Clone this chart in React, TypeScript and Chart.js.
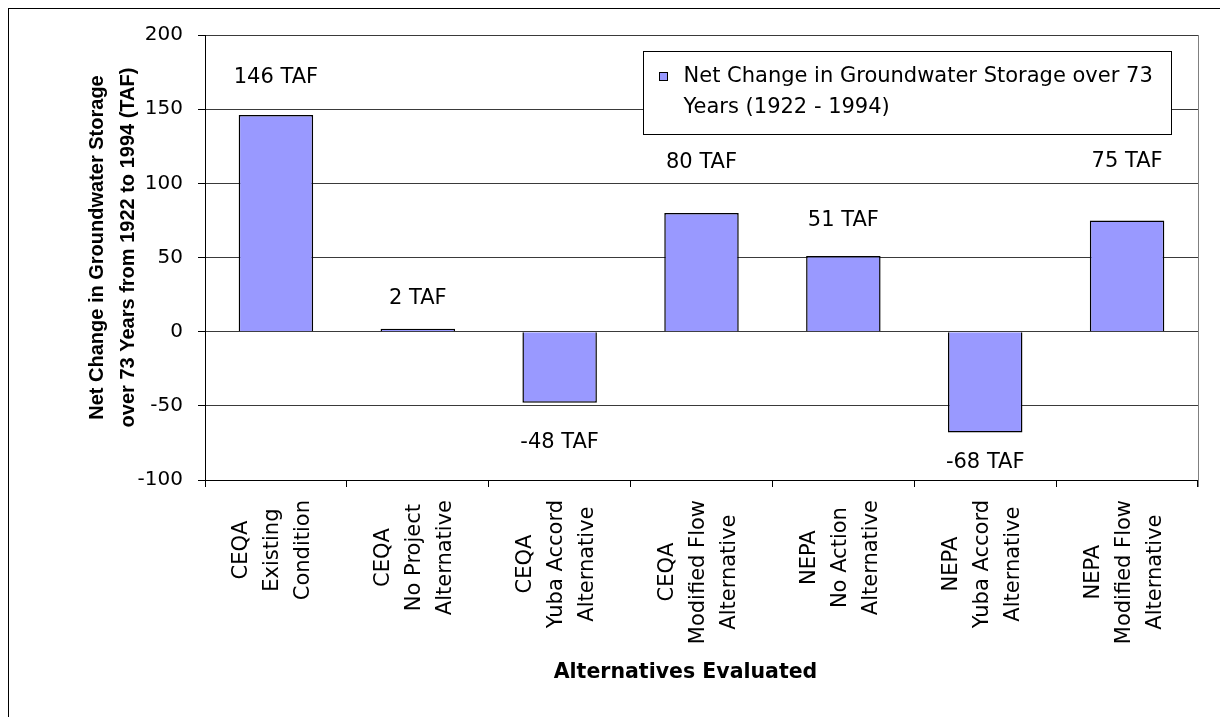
import React, { useEffect, useRef } from 'react';
import { Chart, registerables } from 'chart.js';

Chart.register(...registerables);

// ---- data ----
const categories: string[][] = [
  ['CEQA', 'Existing', 'Condition'],
  ['CEQA', 'No Project', 'Alternative'],
  ['CEQA', 'Yuba Accord', 'Alternative'],
  ['CEQA', 'Modified Flow', 'Alternative'],
  ['NEPA', 'No Action', 'Alternative'],
  ['NEPA', 'Yuba Accord', 'Alternative'],
  ['NEPA', 'Modified Flow', 'Alternative'],
];
const netChange = [146, 2, -48, 80, 51, -68, 75];
const valueLabels = ['146 TAF', '2 TAF', '-48 TAF', '80 TAF', '51 TAF', '-68 TAF', '75 TAF'];
const yTicks = [-100, -50, 0, 50, 100, 150, 200];
const seriesLabel = 'Net Change in Groundwater Storage over 73 Years (1922 - 1994)';
const legendLines = ['Net Change in Groundwater Storage over 73', 'Years (1922 - 1994)'];
const yTitle = ['Net Change in Groundwater Storage', 'over 73 Years from 1922 to 1994 (TAF)'];
const xTitle = 'Alternatives Evaluated';

// where each value label sits (in axis units)
const labelAnchors = [171, 22, -75, 114, 75, -88, 115];

const REG = '"DejaVu Sans", sans-serif';
const BOLD_Y = '"Liberation Sans", Arial, sans-serif';
const BOLD_X = '"DejaVu Sans", sans-serif';

export default function App() {
  const ref = useRef<HTMLCanvasElement>(null);

  useEffect(() => {
    document.documentElement.style.overflow = 'hidden';
    document.body.style.overflow = 'hidden';
    const canvas = ref.current!;

    const framePlugin = {
      id: 'frame',
      beforeDraw(chart: any) {
        const { ctx, width, height } = chart;
        ctx.save();
        ctx.fillStyle = '#ffffff';
        ctx.fillRect(0, 0, width, height);
        ctx.restore();
      },
      afterDraw(chart: any) {
        const { ctx, width, height, chartArea } = chart;
        ctx.save();
        ctx.strokeStyle = '#000000';
        ctx.lineWidth = 1;
        ctx.strokeRect(0.5, 0.5, width + 20, height + 20);
        // right border of plot area
        ctx.strokeStyle = '#808080';
        ctx.beginPath();
        const rx = Math.round(chartArea.right) + 0.5;
        ctx.moveTo(rx, chartArea.top);
        ctx.lineTo(rx, chartArea.bottom + 7);
        ctx.stroke();
        ctx.restore();
      },
    };

    const titlesPlugin = {
      id: 'axisTitles',
      afterDraw(chart: any) {
        const { ctx, chartArea } = chart;
        ctx.save();
        ctx.fillStyle = '#000000';
        ctx.textAlign = 'center';
        ctx.textBaseline = 'middle';
        // y title (two rotated lines)
        ctx.font = `bold 20px ${BOLD_Y}`;
        const yMid = (chartArea.top + chartArea.bottom) / 2 - 10;
        yTitle.forEach((t, j) => {
          ctx.save();
          ctx.translate(89 + j * 31, yMid);
          ctx.rotate(-Math.PI / 2);
          ctx.fillText(t, 0, 0);
          ctx.restore();
        });
        // x title
        ctx.font = `bold 20.5px ${BOLD_X}`;
        const xMid = (chartArea.left + chartArea.right) / 2 - 16;
        ctx.fillText(xTitle, xMid, chartArea.bottom + 193);
        ctx.restore();
      },
    };

    const valueLabelPlugin = {
      id: 'valueLabels',
      afterDatasetsDraw(chart: any) {
        const { ctx } = chart;
        const meta = chart.getDatasetMeta(0);
        const yScale = chart.scales.y;
        ctx.save();
        ctx.fillStyle = '#000000';
        ctx.font = `21px ${REG}`;
        ctx.textAlign = 'center';
        ctx.textBaseline = 'middle';
        meta.data.forEach((bar: any, i: number) => {
          ctx.fillText(valueLabels[i], bar.x, yScale.getPixelForValue(labelAnchors[i]));
        });
        ctx.restore();
      },
    };

    const xLabelPlugin = {
      id: 'xLabels',
      afterDraw(chart: any) {
        const { ctx, chartArea } = chart;
        const xScale = chart.scales.x;
        ctx.save();
        ctx.fillStyle = '#000000';
        ctx.font = `21px ${REG}`;
        ctx.textAlign = 'center';
        ctx.textBaseline = 'middle';
        const lineGap = 31;
        categories.forEach((lines, i) => {
          const cx = xScale.getPixelForValue(i);
          const maxW = Math.max(...lines.map((l) => ctx.measureText(l).width));
          const cy = chartArea.bottom + 20 + maxW / 2;
          lines.forEach((line, j) => {
            const lx = cx + (j - (lines.length - 1) / 2) * lineGap - 3;
            ctx.save();
            ctx.translate(lx, cy);
            ctx.rotate(-Math.PI / 2);
            ctx.fillText(line, 0, 0);
            ctx.restore();
          });
        });
        ctx.restore();
      },
    };

    const legendPlugin = {
      id: 'boxLegend',
      afterDraw(chart: any) {
        const { ctx, chartArea } = chart;
        const ds = chart.data.datasets[0];
        const left = Math.round(chartArea.right - 555) + 0.5;
        const top = Math.round(chartArea.top + 16) + 0.5;
        const w = 528;
        const h = 83;
        ctx.save();
        ctx.fillStyle = '#ffffff';
        ctx.fillRect(left, top, w, h);
        ctx.strokeStyle = '#000000';
        ctx.lineWidth = 1;
        ctx.strokeRect(left, top, w, h);
        // swatch
        const line1 = top + 25;
        ctx.fillStyle = ds.backgroundColor;
        ctx.fillRect(left + 16, line1 - 4, 8, 8);
        ctx.strokeRect(left + 16, line1 - 4, 8, 8);
        ctx.fillStyle = '#000000';
        ctx.font = `21px ${REG}`;
        ctx.textAlign = 'left';
        ctx.textBaseline = 'middle';
        legendLines.forEach((t, j) => {
          ctx.fillText(t, left + 40, line1 + j * 31);
        });
        ctx.restore();
      },
    };

    const chart = new Chart(canvas, {
      type: 'bar',
      data: {
        labels: categories,
        datasets: [
          {
            label: seriesLabel,
            data: netChange,
            backgroundColor: '#9999FF',
            borderColor: '#000000',
            borderWidth: 1.5,
            barPercentage: 0.525,
            categoryPercentage: 1,
          },
        ],
      },
      options: {
        responsive: false,
        animation: false,
        devicePixelRatio: 1,
        layout: { padding: { top: 23, right: 30, left: 0, bottom: 0 } },
        plugins: {
          legend: { display: false },
          tooltip: { enabled: false },
          title: { display: false },
        },
        scales: {
          x: {
            grid: {
              display: true,
              drawOnChartArea: false,
              drawTicks: true,
              tickLength: 7,
              tickColor: '#000000',
              offset: true,
            },
            border: { display: true, color: '#000000', width: 1 },
            ticks: { display: false },
            title: { display: false },
            afterFit: (s: any) => {
              s.height = 237;
            },
          },
          y: {
            min: -100,
            max: 200,
            afterBuildTicks: (s: any) => {
              s.ticks = yTicks.map((v) => ({ value: v }));
            },
            ticks: {
              color: '#000000',
              font: { family: REG, size: 20 },
              padding: 15,
            },
            grid: { color: '#3a3a3a', tickColor: '#000000', tickLength: 7, lineWidth: 1 },
            border: { display: true, color: '#000000', width: 1 },
            title: { display: false },
            afterFit: (s: any) => {
              s.width = 197;
            },
          },
        },
      },
      plugins: [framePlugin, titlesPlugin, valueLabelPlugin, xLabelPlugin, legendPlugin],
    } as any);

    return () => chart.destroy();
  }, []);

  return (
    <div style={{ width: 1220, height: 709 }}>
      <canvas ref={ref} width={1220} height={709} style={{ display: 'block', width: 1220, height: 709 }} />
    </div>
  );
}
